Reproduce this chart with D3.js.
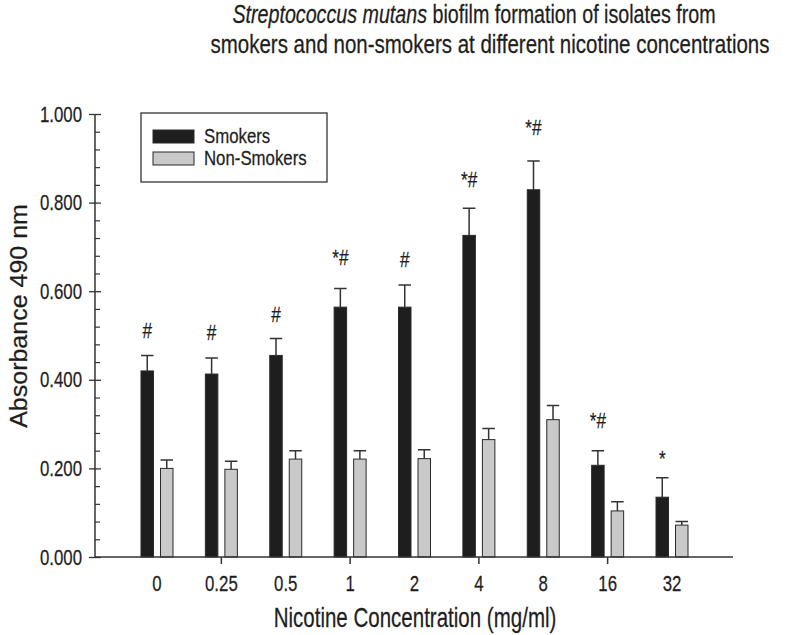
<!DOCTYPE html>
<html><head><meta charset="utf-8">
<script src="https://cdn.jsdelivr.net/npm/d3@7"></script>
<style>
body{margin:0;background:#fff}
svg{display:block}
text{font-family:"Liberation Sans",Arial,Helvetica,sans-serif;fill:#1e1e1e;stroke:#1e1e1e;stroke-width:0.25px}
</style>
</head><body>
<svg id="chart" width="800" height="635"></svg>
<script>
// ---- data ----
const categories = ["0", "0.25", "0.5", "1", "2", "4", "8", "16", "32"];
const smokers = [0.420, 0.413, 0.455, 0.564, 0.564, 0.726, 0.829, 0.207, 0.135];
const smokersErr = [0.035, 0.036, 0.038, 0.042, 0.050, 0.061, 0.065, 0.033, 0.044];
const nonSmokers = [0.200, 0.198, 0.221, 0.221, 0.222, 0.265, 0.310, 0.104, 0.072];
const nonSmokersErr = [0.019, 0.018, 0.019, 0.019, 0.020, 0.025, 0.032, 0.021, 0.008];
const marks = ["#", "#", "#", "*#", "#", "*#", "*#", "*#", "*"];
const markY = [0.494, 0.490, 0.530, 0.659, 0.655, 0.836, 0.953, 0.291, 0.205];
const yTicks = [0, 0.2, 0.4, 0.6, 0.8, 1.0];
const yMinorStep = 0.04;
const xTickCats = ["0.25", "1", "4", "16"];
const seriesNames = ["Smokers", "Non-Smokers"];
const seriesColors = ["#1e1e1e", "#c9c9c9"];

// ---- layout ----
const SX = 0.82;  // glyph horizontal compression (titles, legend)
const SX2 = 0.76; // stronger compression with larger font (ticks, x title)
const FK = 1.08;
const svg = d3.select("#chart");
const y = d3.scaleLinear().domain([0, 1]).range([557, 114]);
const x = d3.scaleBand().domain(categories).range([124.8, 704.2]).paddingInner(0).paddingOuter(0);
const xs = d3.scaleBand().domain(seriesNames).range([-16, 16]).paddingInner(0.36);
const axisX0 = 95, axisX1 = 733;

function squish(sel, k) {
  const s = k || SX;
  sel.each(function () {
    const t = d3.select(this);
    const xv = +t.attr("x") || 0;
    t.attr("x", xv / s).attr("transform", `scale(${s},1)`);
  });
}

const table = categories.map((c, i) => ({
  c, i,
  vals: [
    {name: seriesNames[0], v: smokers[i], e: smokersErr[i]},
    {name: seriesNames[1], v: nonSmokers[i], e: nonSmokersErr[i]}
  ]
}));

// ---- title ----
const title = svg.append("g").attr("font-size", 25);
const t1 = title.append("text").attr("x", 474).attr("y", 23).attr("text-anchor", "middle");
t1.append("tspan").attr("font-style", "italic").text("Streptococcus mutans");
t1.append("tspan").text(" biofilm formation of isolates from");
const t2 = title.append("text").attr("x", 490).attr("y", 53).attr("text-anchor", "middle")
  .text("smokers and non-smokers at different nicotine concentrations");
squish(t1, SX * 0.96);
squish(t2);

// ---- bars ----
const groups = svg.append("g").selectAll("g").data(table).join("g")
  .attr("transform", d => `translate(${x(d.c) + x.bandwidth() / 2},0)`);

groups.selectAll("rect").data(d => d.vals).join("rect")
  .attr("x", d => xs(d.name))
  .attr("y", d => y(d.v))
  .attr("width", xs.bandwidth())
  .attr("height", d => y(0) - y(d.v))
  .attr("fill", (d, j) => seriesColors[j])
  .attr("stroke", "#2a2a2a")
  .attr("stroke-width", 1);

// error bars
groups.selectAll("path.err").data(d => d.vals).join("path")
  .attr("class", "err")
  .attr("fill", "none").attr("stroke", "#333").attr("stroke-width", 1.5)
  .attr("d", d => {
    const cx = xs(d.name) + xs.bandwidth() / 2;
    const top = y(d.v + d.e);
    return `M${cx},${y(d.v)}V${top}M${xs(d.name)},${top}H${xs(d.name) + xs.bandwidth()}`;
  });

// significance marks
const markG = svg.append("g").attr("font-size", 21 * FK).attr("text-anchor", "middle");
markG.selectAll("text").data(table).join("text")
  .attr("x", d => x(d.c) + x.bandwidth() / 2 + xs(seriesNames[0]) + xs.bandwidth() / 2)
  .attr("y", d => y(markY[d.i]))
  .text(d => marks[d.i]);
squish(markG.selectAll("text"), SX2);

// ---- axes ----
const axisColor = "#333";
// y axis
const yAxisG = svg.append("g").attr("transform", `translate(${axisX0},0)`);
yAxisG.call(d3.axisLeft(y).tickValues(yTicks).tickFormat(d3.format(".3f")).tickSize(6).tickPadding(7));
yAxisG.select(".domain").remove();
yAxisG.selectAll("line").attr("stroke", axisColor).attr("stroke-width", 1.3);
yAxisG.selectAll("text").attr("font-size", 20.5 * FK).attr("font-family", null).attr("fill", "#1e1e1e");
squish(yAxisG.selectAll("text"), SX2);
const yMajIn = svg.append("g").attr("transform", `translate(${axisX0},0)`)
  .call(d3.axisRight(y).tickValues(yTicks).tickSize(6).tickFormat(""));
yMajIn.select(".domain").remove();
yMajIn.selectAll("line").attr("stroke", axisColor).attr("stroke-width", 1.3);
const minorVals = d3.range(0, 1 + 1e-9, yMinorStep).filter(v => !yTicks.some(t => Math.abs(t - v) < 1e-6));
const yMin = svg.append("g").attr("transform", `translate(${axisX0},0)`)
  .call(d3.axisRight(y).tickValues(minorVals).tickSize(5).tickFormat(""));
yMin.select(".domain").remove();
yMin.selectAll("line").attr("stroke", axisColor).attr("stroke-width", 1.2);

svg.append("line").attr("x1", axisX0).attr("x2", axisX0).attr("y1", y(0)).attr("y2", y(1))
  .attr("stroke", axisColor).attr("stroke-width", 1.5);

// x axis
svg.append("line").attr("x1", axisX0).attr("x2", axisX1).attr("y1", y(0)).attr("y2", y(0))
  .attr("stroke", axisColor).attr("stroke-width", 1.5);
const xLab = svg.append("g").attr("transform", `translate(0,${y(0)})`)
  .call(d3.axisBottom(x).tickSize(0).tickPadding(34));
xLab.select(".domain").remove();
xLab.selectAll("text").attr("font-size", 20.5 * FK).attr("font-family", null).attr("fill", "#1e1e1e").attr("dy", 0);
squish(xLab.selectAll("text"), SX2);
const xTk = svg.append("g").attr("transform", `translate(0,${y(0)})`)
  .call(d3.axisBottom(x).tickValues(xTickCats).tickSize(7).tickFormat(""));
xTk.select(".domain").remove();
xTk.selectAll("line").attr("stroke", axisColor).attr("stroke-width", 1.5);

// axis titles
svg.append("text").attr("font-size", 25 * FK).attr("text-anchor", "middle")
  .attr("x", 0).attr("y", 0)
  .attr("transform", `translate(${415},627) scale(${SX2},1)`)
  .text("Nicotine Concentration (mg/ml)");
svg.append("text").attr("font-size", 25).attr("text-anchor", "middle")
  .attr("x", 0).attr("y", 0)
  .attr("transform", `translate(27,316) scale(0.95,1) rotate(-90)`)
  .text("Absorbance 490 nm");

// ---- legend ----
const lg = svg.append("g");
lg.append("rect").attr("x", 141).attr("y", 113).attr("width", 186).attr("height", 69)
  .attr("fill", "#fff").attr("stroke", "#333").attr("stroke-width", 1.3);
const li = lg.selectAll("g").data(seriesNames).join("g")
  .attr("transform", (d, i) => `translate(153,${130 + i * 22})`);
li.append("rect").attr("width", 41).attr("height", 13)
  .attr("fill", (d, i) => seriesColors[i]).attr("stroke", "#2a2a2a").attr("stroke-width", 1);
li.append("text").attr("x", 51).attr("y", 13).attr("font-size", 20.5).text(d => d);
squish(li.selectAll("text"));
</script>
</body></html>
